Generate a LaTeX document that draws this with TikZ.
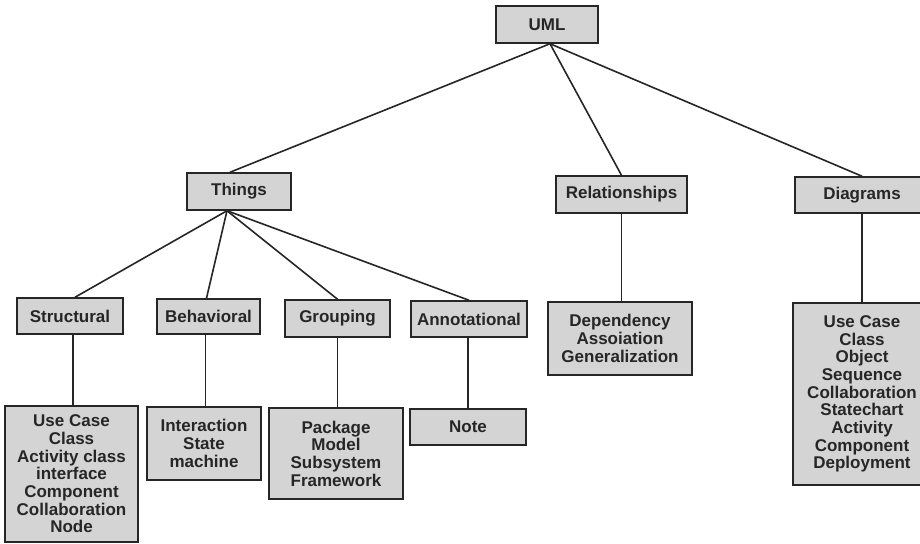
\documentclass[tikz,border=0pt]{standalone}
\usepackage{fontspec}
\setmainfont{Liberation Sans}
\begin{document}
\begin{tikzpicture}[x=1pt,y=-1pt,
  box/.style={draw=black!85, line width=1.5pt, fill=black!17, inner sep=0pt,
    align=center, font=\bfseries\fontsize{17}{17.7}\selectfont, text=black!85},
  link/.style={draw=black!85, line width=1.6pt}]
\useasboundingbox (0,0) rectangle (920,543);
\clip (0,0) rectangle (920,543);
\fill[white] (0,0) rectangle (920,543);
% level 0
\node[box, minimum width=102pt, minimum height=37pt] (uml) at (547,24.5) {UML};
% level 1
\node[box, minimum width=104pt, minimum height=37pt] (things) at (239,191.5) {Things};
\node[box, minimum width=131pt, minimum height=37pt] (rel) at (621.5,194.5) {Relationships};
\node[box, minimum width=134pt, minimum height=36pt] (diag) at (862,195) {Diagrams};
% level 2
\node[box, minimum width=106pt, minimum height=36pt] (struct) at (70,316) {Structural};
\node[box, minimum width=103pt, minimum height=35pt] (behav) at (208.5,316.5) {Behavioral};
\node[box, minimum width=105pt, minimum height=37pt] (group) at (337.5,318.5) {Grouping};
\node[box, minimum width=116pt, minimum height=36pt] (annot) at (469,319) {Annotational};
\node[box, minimum width=144pt, minimum height=73pt] (rellist) at (620,338.5) {Dependency\\Assoiation\\Generalization};
\node[box, minimum width=138pt, minimum height=182pt] (diaglist) at (862,394) {Use Case\\Class\\Object\\Sequence\\Collaboration\\Statechart\\Activity\\Component\\Deployment};
% level 3
\node[box, minimum width=133pt, minimum height=136pt] (structlist) at (71.5,474) {Use Case\\Class\\Activity class\\interface\\Component\\Collaboration\\Node};
\node[box, minimum width=114pt, minimum height=73pt] (behavlist) at (204,443.5) {Interaction\\State\\machine};
\node[box, minimum width=134pt, minimum height=91pt] (grouplist) at (336,453.5) {Package\\Model\\Subsystem\\Framework};
\node[box, minimum width=116pt, minimum height=36pt] (note) at (468,427) {Note};
% connectors from UML
\draw[link] ([xshift=3pt]uml.south) -- ([xshift=-9pt]things.north);
\draw[link] ([xshift=3pt]uml.south) -- (rel.north);
\draw[link] ([xshift=3pt]uml.south) -- (diag.north);
% connectors from Things
\draw[link] ([xshift=-12pt]things.south) -- ([xshift=5pt]struct.north);
\draw[link] ([xshift=-12pt]things.south) -- ([xshift=-2pt]behav.north);
\draw[link] ([xshift=-12pt]things.south) -- (group.north);
\draw[link] ([xshift=-12pt]things.south) -- (annot.north);
% vertical connectors
\draw[link] ([xshift=3pt]struct.south) -- ([xshift=3pt]struct.south |- structlist.north);
\draw[link] ([xshift=-3pt]behav.south) -- ([xshift=-3pt]behav.south |- behavlist.north);
\draw[link] (group.south) -- (group.south |- grouplist.north);
\draw[link] ([xshift=-1pt]annot.south) -- ([xshift=-1pt]annot.south |- note.north);
\draw[link] (rel.south) -- (rel.south |- rellist.north);
\draw[link] (diag.south) -- (diag.south |- diaglist.north);
\end{tikzpicture}
\end{document}
